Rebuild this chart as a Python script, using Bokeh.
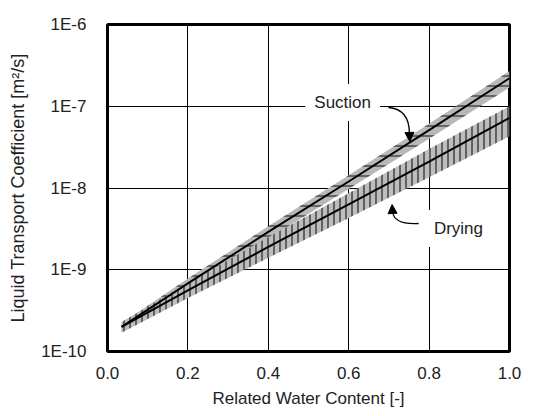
from bokeh.plotting import figure
from bokeh.models import Label, Arrow, NormalHead, Range1d, FixedTicker
from bokeh.embed import file_html
from bokeh.resources import INLINE

# ---- data ----
water_content = [0.035, 0.2, 0.4, 0.6, 0.8, 1.0]
suction_mid = [2.0e-10, 6.8e-10, 2.9e-9, 1.2e-8, 5.1e-8, 2.2e-7]
suction_upper = [2.2e-10, 7.8e-10, 3.4e-9, 1.43e-8, 6.1e-8, 2.7e-7]
suction_lower = [1.75e-10, 5.8e-10, 2.4e-9, 9.7e-9, 4.0e-8, 1.7e-7]
drying_mid = [2.0e-10, 5.6e-10, 1.9e-9, 6.3e-9, 2.1e-8, 7.2e-8]
drying_upper = [2.3e-10, 6.9e-10, 2.5e-9, 8.6e-9, 3.0e-8, 1.0e-7]
drying_lower = [1.7e-10, 4.5e-10, 1.4e-9, 4.3e-9, 1.35e-8, 4.3e-8]

x_ticks = [0.0, 0.2, 0.4, 0.6, 0.8, 1.0]
x_tick_labels = ["0.0", "0.2", "0.4", "0.6", "0.8", "1.0"]
y_ticks = [1e-10, 1e-9, 1e-8, 1e-7, 1e-6]
y_tick_labels = ["1E-10", "1E-9", "1E-8", "1E-7", "1E-6"]

FONT = "Liberation Sans"
FS = "17px"

p = figure(width=536, height=416, x_range=Range1d(0, 1), y_range=Range1d(1e-10, 1e-6),
           y_axis_type="log", output_backend="svg", toolbar_location=None,
           min_border_left=107, min_border_right=27, min_border_top=24, min_border_bottom=65)
p.background_fill_color = "white"
p.border_fill_color = "white"
p.outline_line_color = "black"
p.outline_line_width = 3

p.xaxis.ticker = FixedTicker(ticks=x_ticks)
p.yaxis.ticker = FixedTicker(ticks=y_ticks)
p.xaxis.major_label_overrides = dict(zip(x_ticks, x_tick_labels))
p.yaxis.major_label_overrides = dict(zip(y_ticks, y_tick_labels))
for ax in (p.xaxis, p.yaxis):
    ax.axis_line_color = None
    ax.major_tick_line_color = None
    ax.minor_tick_line_color = None
    ax.major_label_text_font = FONT
    ax.major_label_text_font_size = FS
    ax.major_label_text_color = "#222222"
    ax.axis_label_text_font = FONT
    ax.axis_label_text_font_size = FS
    ax.axis_label_text_font_style = "normal"
    ax.axis_label_text_color = "#222222"
p.yaxis.axis_label_text_font_size = "18px"
p.xaxis.axis_label = "Related Water Content [-]"
p.yaxis.axis_label = "Liquid Transport Coefficient [m²/s]"
p.xaxis.major_label_standoff = 9
p.yaxis.major_label_standoff = 15
p.xaxis.axis_label_standoff = 7
p.yaxis.axis_label_standoff = 10

p.xgrid.ticker = FixedTicker(ticks=x_ticks)
p.ygrid.ticker = FixedTicker(ticks=y_ticks)
for g in (p.xgrid, p.ygrid):
    g.grid_line_color = "black"
    g.grid_line_width = 1
    g.grid_line_alpha = 1
p.ygrid.minor_grid_line_color = None

# bands
p.varea(x=water_content, y1=suction_lower, y2=suction_upper, fill_color="#b8b8b8",
        hatch_pattern="-", hatch_color="#111111", hatch_scale=10, hatch_weight=1)
p.varea(x=water_content, y1=drying_lower, y2=drying_upper, fill_color="#bdbdbd",
        hatch_pattern="|", hatch_color="#222222", hatch_scale=6, hatch_weight=1.2)
p.line(water_content, suction_mid, line_color="black", line_width=2)
p.line(water_content, drying_mid, line_color="black", line_width=2)

# annotations
p.add_layout(Label(x=0.585, y=1.11e-7, text="Suction", text_align="center", text_baseline="middle",
                   text_font=FONT, text_font_size=FS, text_color="#222222",
                   background_fill_color="white", padding=9))
p.add_layout(Label(x=0.873, y=3.2e-9, text="Drying", text_align="center", text_baseline="middle",
                   text_font=FONT, text_font_size=FS, text_color="#222222",
                   background_fill_color="white", padding=9))

p.bezier(x0=[0.699, 0.774], y0=[9.66e-8, 3.68e-9],
         x1=[0.751, 0.709], y1=[4.65e-8, 5.16e-9],
         cx0=[0.731, 0.731], cy0=[9.38e-8, 3.58e-9],
         cx1=[0.751, 0.711], cy1=[7.5e-8, 4.12e-9],
         line_color="black", line_width=1.3)
p.add_layout(Arrow(end=NormalHead(size=9, fill_color="black", line_color="black"),
                   x_start=0.751, y_start=4.91e-8, x_end=0.752, y_end=3.71e-8,
                   line_color="black", line_width=1.3))
p.add_layout(Arrow(end=NormalHead(size=9, fill_color="black", line_color="black"),
                   x_start=0.709, y_start=5.01e-9, x_end=0.708, y_end=6.28e-9,
                   line_color="black", line_width=1.3))

open("out.html", "w").write(file_html(p, INLINE))
